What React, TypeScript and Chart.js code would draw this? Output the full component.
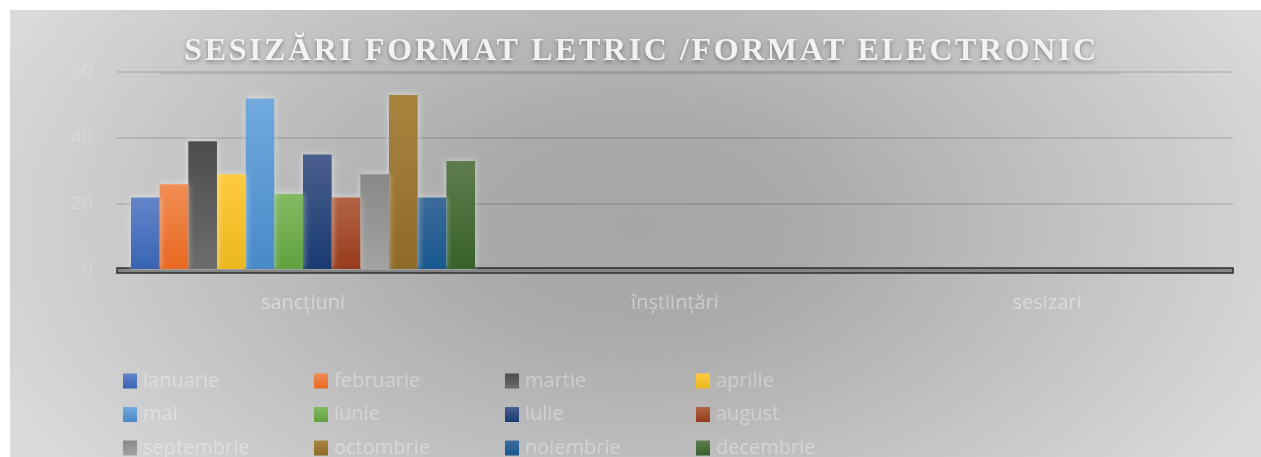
import React, { useEffect, useRef } from "react";
import { Chart, registerables } from "chart.js";

Chart.register(...registerables);

const TITLE = "SESIZĂRI FORMAT LETRIC /FORMAT ELECTRONIC";
const categories = ["sancțiuni", "înștiințări", "sesizari"];
const months = [
  "ianuarie", "februarie", "martie", "aprilie",
  "mai", "iunie", "iulie", "august",
  "septembrie", "octombrie", "noiembrie", "decembrie",
];
const sanctiuni = [22, 26, 39, 29, 52, 23, 35, 22, 29, 53, 22, 33];
const instiintari = [0, 0, 0, 0, 0, 0, 0, 0, 0, 0, 0, 0];
const sesizari = [0, 0, 0, 0, 0, 0, 0, 0, 0, 0, 0, 0];
const yMin = 0;
const yMax = 60;
const yStep = 20;

const topColors = [
  "#6385ca", "#f18d55", "#4d4d4d", "#ffca3e",
  "#72aade", "#83ba62", "#4b5f8e", "#b26444",
  "#888888", "#a8853f", "#3d6b9a", "#5e7d4d",
];
const bottomColors = [
  "#3763b2", "#e8681f", "#6c6c6c", "#e9b71d",
  "#4789c8", "#61a13e", "#173a71", "#973a1b",
  "#a3a3a3", "#8e6a27", "#16578f", "#37602a",
];

const FONT = "'Open Sans', 'DejaVu Sans', sans-serif";

const decorPlugin = {
  id: "decor",
  beforeDraw(chart: any) {
    const { ctx, width, height } = chart;
    ctx.save();
    ctx.translate(width * 0.5, height * 0.48);
    ctx.scale(1, 0.6);
    const g = ctx.createRadialGradient(0, 0, 0, 0, 0, 700);
    g.addColorStop(0, "#a6a6a6");
    g.addColorStop(0.25, "#aaaaaa");
    g.addColorStop(1, "#dadada");
    ctx.fillStyle = g;
    ctx.fillRect(-width, -height * 2, width * 2, height * 4);
    ctx.restore();
  },
  beforeDatasetsDraw(chart: any) {
    const { ctx, chartArea } = chart;
    const y = chart.scales.y;
    const y0 = y.getPixelForValue(0);
    const yTop = y.getPixelForValue(yMax);
    ctx.save();
    ctx.strokeStyle = "rgba(0,0,0,0.08)";
    ctx.lineWidth = 2;
    ctx.beginPath();
    ctx.moveTo(chartArea.left + 43, yTop + 1.5);
    ctx.lineTo(chartArea.right - 113, yTop + 1.5);
    ctx.stroke();
    ctx.fillStyle = "#858585";
    ctx.strokeStyle = "#2c2c2c";
    ctx.lineWidth = 1.5;
    ctx.fillRect(chartArea.left, y0 - 2, chartArea.right - chartArea.left, 5);
    ctx.strokeRect(chartArea.left, y0 - 2, chartArea.right - chartArea.left, 5);
    ctx.restore();
    ctx.save();
    ctx.shadowColor = "rgba(255,255,255,0.55)";
    ctx.shadowBlur = 7;
  },
  afterDatasetsDraw(chart: any) {
    chart.ctx.restore();
  },
  afterDraw(chart: any) {
    const { ctx, width, chartArea } = chart;
    ctx.save();
    ctx.font = `bold 32px 'Liberation Serif', 'Times New Roman', serif`;
    (ctx as any).letterSpacing = "2.6px";
    ctx.textAlign = "center";
    ctx.textBaseline = "alphabetic";
    ctx.shadowColor = "rgba(0,0,0,0.35)";
    ctx.shadowBlur = 4;
    ctx.shadowOffsetY = 2;
    ctx.fillStyle = "#f2f2f2";
    ctx.fillText(TITLE, width / 2 + 6, 50);
    ctx.restore();

    ctx.save();
    ctx.font = `20px ${FONT}`;
    ctx.textBaseline = "middle";
    ctx.textAlign = "left";
    const colW = 191;
    const rowH = 33.5;
    const x0 = chartArea.left + 6;
    const yRow0 = 371;
    chart.data.datasets.forEach((ds: any, i: number) => {
      const col = i % 4;
      const row = Math.floor(i / 4);
      const bx = x0 + col * colW;
      const cy = yRow0 + row * rowH;
      const g = ctx.createLinearGradient(0, cy - 7.5, 0, cy + 7.5);
      g.addColorStop(0, topColors[i]);
      g.addColorStop(1, bottomColors[i]);
      ctx.fillStyle = g;
      ctx.fillRect(bx, cy - 7.5, 14, 15);
      ctx.fillStyle = "rgba(255,255,255,0.34)";
      ctx.fillText(ds.label, bx + 20, cy);
    });
    ctx.restore();
  },
};

export default function App() {
  const ref = useRef<HTMLCanvasElement | null>(null);

  useEffect(() => {
    if (!ref.current) return;
    const datasets = months.map((m, i) => ({
      label: m,
      data: [sanctiuni[i], instiintari[i], sesizari[i]],
      borderWidth: 0,
      backgroundColor: (c: any) => {
        const chart = c.chart;
        const ys = chart.scales && chart.scales.y;
        if (!ys || c.parsed == null || c.type !== "data") return bottomColors[i];
        const yv = ys.getPixelForValue(c.parsed.y);
        const yb = ys.getPixelForValue(0);
        if (!isFinite(yv) || !isFinite(yb) || yb - yv < 1) return bottomColors[i];
        const g = chart.ctx.createLinearGradient(0, yv, 0, yb);
        g.addColorStop(0, topColors[i]);
        g.addColorStop(1, bottomColors[i]);
        return g;
      },
    }));
    const chart = new Chart(ref.current, {
      type: "bar",
      data: { labels: categories, datasets },
      plugins: [decorPlugin],
      options: {
        animation: false,
        responsive: false,
        events: [],
        layout: { padding: { top: 62, right: 28, left: 0, bottom: 0 } },
        datasets: { bar: { categoryPercentage: 0.925, barPercentage: 1 } },
        plugins: {
          legend: { display: false },
          title: { display: false },
          tooltip: { enabled: false },
        },
        scales: {
          x: {
            border: { display: false },
            grid: { display: false, drawTicks: false },
            ticks: {
              color: "rgba(255,255,255,0.4)",
              font: { family: FONT, size: 20 },
              padding: 21,
            },
            afterFit: (s: any) => {
              s.height = 187;
            },
          },
          y: {
            min: yMin,
            max: yMax,
            border: { display: false },
            grid: {
              drawTicks: false,
              color: (c: any) => (c.tick && c.tick.value === 0 ? "rgba(0,0,0,0)" : "rgba(0,0,0,0.1)"),
              lineWidth: 2,
            },
            ticks: {
              stepSize: yStep,
              color: "rgba(255,255,255,0.2)",
              font: { family: FONT, size: 19 },
              padding: 24,
            },
            afterFit: (s: any) => {
              s.width = 107;
            },
          },
        },
      },
    });
    return () => chart.destroy();
  }, []);

  return (
    <div style={{ position: "absolute", left: 10, top: 10, width: 1251, height: 447 }}>
      <canvas ref={ref} width={1251} height={447} style={{ display: "block", width: 1251, height: 447 }} />
    </div>
  );
}
